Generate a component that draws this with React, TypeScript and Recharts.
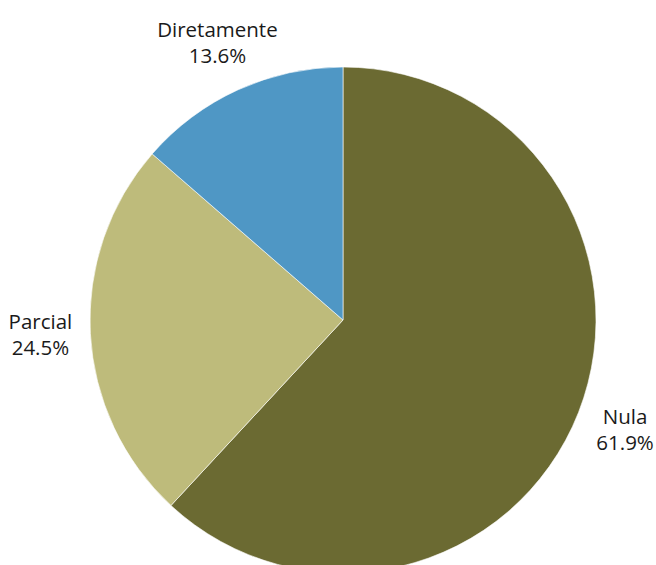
import { Cell, Pie, PieChart } from "recharts";

const CATEGORIES = ["Nula", "Parcial", "Diretamente"];
const SHARES = [61.9, 24.5, 13.6];
const FILLS = ["#6b6a32", "#bebb7b", "#4f97c5"];

const data = CATEGORIES.map((name, i) => ({ name, value: SHARES[i] }));

const RADIAN = Math.PI / 180;

function SliceLabel(props: any) {
  const { cx, cy, midAngle, outerRadius, name, value } = props;
  const r = outerRadius + 50;
  const x = cx + r * Math.cos(-midAngle * RADIAN);
  const y = cy + r * Math.sin(-midAngle * RADIAN);
  return (
    <text
      x={x}
      y={y}
      textAnchor="middle"
      fill="#1a1a1a"
      fontSize={20.5}
      fontFamily="'Open Sans', 'Noto Sans', sans-serif"
    >
      <tspan x={x} dy={-7}>
        {name}
      </tspan>
      <tspan x={x} dy={26}>
        {`${value.toFixed(1)}%`}
      </tspan>
    </text>
  );
}

export default function App() {
  return (
    <div style={{ position: "absolute", left: 0, top: 0, width: 656, height: 565, background: "#fff" }}>
      <PieChart width={656} height={565} margin={{ top: 0, right: 0, bottom: 0, left: 0 }}>
        <Pie
          data={data}
          dataKey="value"
          nameKey="name"
          cx={343}
          cy={320}
          outerRadius={253}
          startAngle={90}
          endAngle={-270}
          stroke="#ffffff"
          strokeWidth={0.6}
          label={SliceLabel}
          labelLine={false}
          isAnimationActive={false}
        >
          {data.map((d, i) => (
            <Cell key={d.name} fill={FILLS[i]} />
          ))}
        </Pie>
      </PieChart>
    </div>
  );
}
